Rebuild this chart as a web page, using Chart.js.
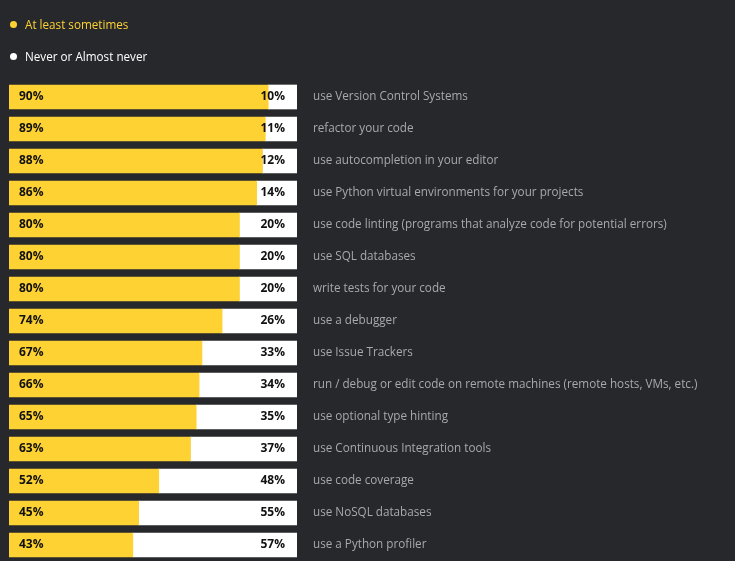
<!DOCTYPE html>
<html>
<head>
<meta charset="utf-8">
<script src="https://cdn.jsdelivr.net/npm/chart.js@4/dist/chart.umd.min.js"></script>
<style>
  html, body { margin: 0; padding: 0; background: #27282c; }
  #wrap { position: relative; width: 735px; height: 561px; }
  canvas { display: block; }
  #legend { position: absolute; left: 0; top: 0; font: 11.7px "Open Sans", sans-serif; }
  .item { position: absolute; left: 10px; white-space: nowrap; }
  .dot { display: inline-block; width: 7px; height: 7px; border-radius: 50%; margin-right: 8px; vertical-align: 1px; }
</style>
</head>
<body>
<div id="wrap">
  <canvas id="chart" width="735" height="561"></canvas>
  <div id="legend"></div>
</div>
<script>
(function() {
    // 数据
    const categories = [
        'use Version Control Systems',
        'refactor your code',
        'use autocompletion in your editor',
        'use Python virtual environments for your projects',
        'use code linting (programs that analyze code for potential errors)',
        'use SQL databases',
        'write tests for your code',
        'use a debugger',
        'use Issue Trackers',
        'run / debug or edit code on remote machines (remote hosts, VMs, etc.)',
        'use optional type hinting',
        'use Continuous Integration tools',
        'use code coverage',
        'use NoSQL databases',
        'use a Python profiler'
    ];
    const atLeastSometimes = [90, 89, 88, 86, 80, 80, 80, 74, 67, 66, 65, 63, 52, 45, 43];
    const neverOrAlmostNever = [10, 11, 12, 14, 20, 20, 20, 26, 33, 34, 35, 37, 48, 55, 57];
    const seriesNames = ['At least sometimes', 'Never or Almost never'];
    const colors = ['#fed232', '#ffffff'];

    // 图例
    const legend = document.getElementById('legend');
    seriesNames.forEach((name, i) => {
        const div = document.createElement('div');
        div.className = 'item';
        div.style.top = (16 + i * 32) + 'px';
        div.style.color = colors[i];
        div.innerHTML = '<span class="dot" style="background:' + colors[i] + '"></span>' + name;
        legend.appendChild(div);
    });

    // 条形内的百分比标签
    const barLabels = {
        id: 'barLabels',
        afterDatasetsDraw(chart) {
            const ctx = chart.ctx;
            ctx.save();
            ctx.font = 'bold 12px "Open Sans", sans-serif';
            ctx.fillStyle = '#111';
            ctx.textBaseline = 'middle';
            chart.data.datasets.forEach((ds, di) => {
                chart.getDatasetMeta(di).data.forEach((bar, i) => {
                    const text = ds.data[i] + '%';
                    if (di === 0) {
                        ctx.textAlign = 'left';
                        ctx.fillText(text, bar.base + 10, bar.y);
                    } else {
                        ctx.textAlign = 'right';
                        ctx.fillText(text, bar.x - 12, bar.y);
                    }
                });
            });
            ctx.restore();
        }
    };

    const ctx = document.getElementById('chart').getContext('2d');
    new Chart(ctx, {
        type: 'bar',
        data: {
            labels: categories,
            datasets: [
                { label: seriesNames[0], data: atLeastSometimes, backgroundColor: colors[0] },
                { label: seriesNames[1], data: neverOrAlmostNever, backgroundColor: colors[1] }
            ]
        },
        options: {
            indexAxis: 'y',
            responsive: false,
            animation: false,
            layout: { padding: { left: 9, top: 81, bottom: 0, right: 0 } },
            barThickness: 24,
            plugins: {
                legend: { display: false },
                tooltip: { enabled: false }
            },
            scales: {
                x: {
                    stacked: true,
                    display: false,
                    min: 0,
                    max: 100
                },
                y: {
                    stacked: true,
                    position: 'right',
                    grid: { display: false, drawTicks: false },
                    border: { display: false },
                    ticks: {
                        color: '#a8a9ac',
                        padding: 16,
                        font: { family: 'Open Sans', size: 11.7 }
                    },
                    afterFit(scale) {
                        scale.width = 735 - 297;
                        scale.paddingTop = 0;
                        scale.paddingBottom = 0;
                    }
                }
            }
        },
        plugins: [barLabels]
    });
})();
</script>
</body>
</html>
